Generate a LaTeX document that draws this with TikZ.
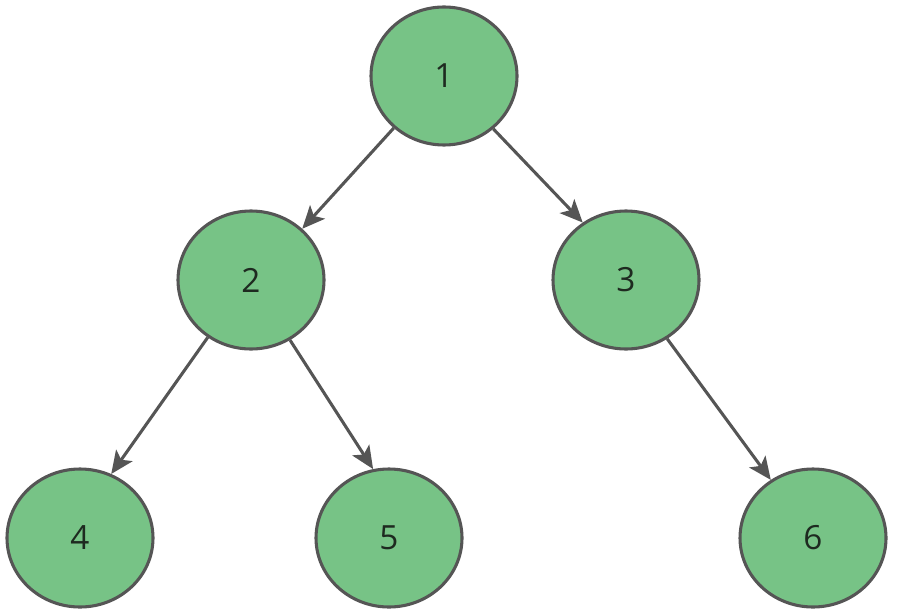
\documentclass[tikz,border=0pt]{standalone}
\usepackage{fontspec}
\setmainfont{Open Sans}
\usetikzlibrary{arrows.meta,shapes.geometric}
\definecolor{nodefill}{HTML}{77C386}
\definecolor{edgecol}{HTML}{555555}
\definecolor{textcol}{HTML}{1E2A20}
\begin{document}
\begin{tikzpicture}[x=0.75pt,y=-0.75pt,
  treenode/.style={ellipse,draw=edgecol,line width=2.3pt,fill=nodefill,minimum width=146*0.75pt,minimum height=138*0.75pt,inner sep=0pt,font=\fontsize{25}{28}\selectfont,text=textcol},
  link/.style={draw=edgecol,line width=2.3pt,-{Stealth[length=17pt,width=15pt,inset=4pt]}}]
\useasboundingbox (0,0) rectangle (898,613);
\node[treenode] (n1) at (444,76) {1};
\node[treenode] (n2) at (251,280) {2};
\node[treenode] (n3) at (626,280) {3};
\node[treenode] (n4) at (80,538) {4};
\node[treenode] (n5) at (389,538) {5};
\node[treenode] (n6) at (813,538) {6};
\draw[link] (n1.226.7) -- (n2.45);
\draw[link] (n1.313.3) -- (n3.127.5);
\draw[link] (n2.233.3) -- (n4.64.8);
\draw[link] (n2.303.7) -- (n5.103.5);
\draw[link] (n3.305.9) -- (n6.126.3);
\end{tikzpicture}
\end{document}
